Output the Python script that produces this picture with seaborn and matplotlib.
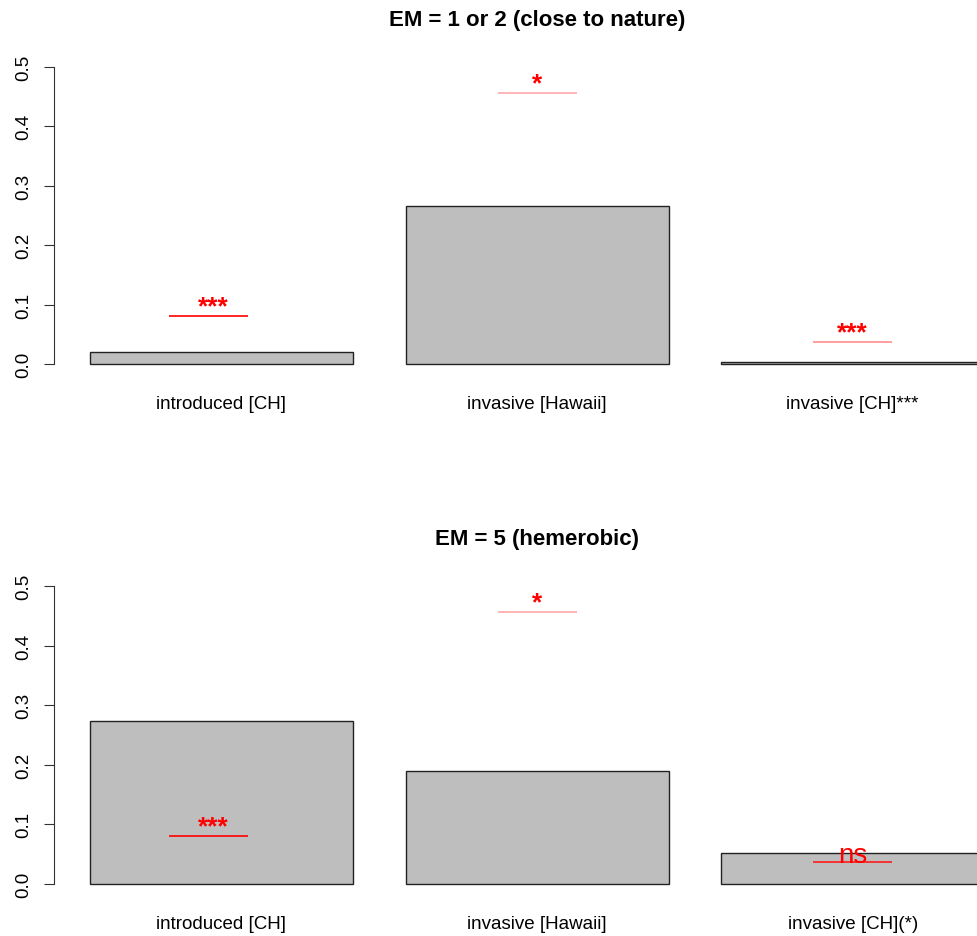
import matplotlib
matplotlib.use("Agg")
import matplotlib.pyplot as plt
import seaborn as sns
import pandas as pd

# Panel titles
titles = ["EM = 1 or 2 (close to nature)", "EM = 5 (hemerobic)"]

# Category labels per panel
labels_top = ["introduced [CH]", "invasive [Hawaii]", "invasive [CH]***"]
labels_bottom = ["introduced [CH]", "invasive [Hawaii]", "invasive [CH](*)"]

# Bar heights (proportions)
values_top = [0.020, 0.266, 0.004]
values_bottom = [0.274, 0.190, 0.052]

# Reference levels marked by short segments, with their significance codes
ref_top = [0.080, 0.456, 0.037]
ref_bottom = [0.080, 0.456, 0.037]
sig_top = ["***", "*", "***"]
sig_bottom = ["***", "*", "ns"]

# Segment extents in barplot units (bars span 0.2-1.2, 1.4-2.4, 2.6-3.6)
seg_start = [0.50, 1.75, 2.95]
seg_end = [0.80, 2.05, 3.25]
# x positions of the significance codes in the same units
sig_x = [0.67, 1.90, 3.10]
seg_colors_top = ["#ff0000", "#ffa8a8", "#ff8c8c"]
seg_colors_bottom = ["#ff0000", "#ffa8a8", "#ff1a1a"]

plt.rcParams["font.family"] = ["Liberation Sans", "DejaVu Sans"]

fig = plt.figure(figsize=(9.77, 9.37), dpi=100)
W, H = 977.0, 937.0


def unit_to_cat(u):
    # barplot units -> categorical positions (bar centres 0.7, 1.9, 3.1 -> 0, 1, 2)
    return (u - 0.7) / 1.2


def panel(rect, title, labels, values, refs, sigs, seg_colors):
    ax = fig.add_axes(rect)
    df = pd.DataFrame({"cat": labels, "val": values})
    sns.barplot(data=df, x="cat", y="val", ax=ax, color="#bebebe",
                saturation=1, width=1 / 1.2, edgecolor="#222222",
                linewidth=1.0, errorbar=None)
    for s, e, xs, r, txt, c in zip(seg_start, seg_end, sig_x, refs, sigs,
                                   seg_colors):
        x0, x1 = unit_to_cat(s), unit_to_cat(e)
        ax.plot([x0, x1], [r, r], color=c, lw=1.2, solid_capstyle="butt",
                zorder=4)
        xm = unit_to_cat(xs)
        if txt == "ns":
            ax.text(xm, r, txt, color="#ff0000", fontsize=20, ha="center",
                    va="baseline", zorder=5)
        else:
            ax.text(xm, r + 0.005, txt, color="#ff0000", fontsize=19,
                    fontweight="bold", ha="center", va="baseline", zorder=5)
    ax.set_xlim(unit_to_cat(0.064), unit_to_cat(3.736))
    ax.set_ylim(-0.02, 0.52)
    ax.set_yticks([0.0, 0.1, 0.2, 0.3, 0.4, 0.5])
    ax.set_yticklabels(["0.0", "0.1", "0.2", "0.3", "0.4", "0.5"])
    for t in ax.get_yticklabels():
        t.set_rotation(90)
        t.set_va("center")
    ax.set_xticks([0, 1, 2])
    ax.set_xticklabels(labels)
    ax.set_xlabel("")
    ax.set_ylabel("")
    for sp in ["top", "right", "bottom"]:
        ax.spines[sp].set_visible(False)
    ax.spines["left"].set_bounds(0, 0.5)
    ax.spines["left"].set_color("#333333")
    ax.spines["left"].set_linewidth(0.8)
    ax.tick_params(axis="y", length=7.2, width=0.8, color="#333333",
                   labelsize=13.5, pad=8.5, direction="out")
    ax.tick_params(axis="x", length=0, labelsize=13.5, pad=14)
    ax.set_title(title, fontsize=16, fontweight="bold", pad=22)
    ax.set_facecolor("white")
    return ax


left = 54.2 / W
width = (1020.0 - 54.2) / W
panel([left, 1 - 376.9 / H, width, 320.8 / H], titles[0], labels_top,
      values_top, ref_top, sig_top, seg_colors_top)
panel([left, 1 - 896.9 / H, width, 321.8 / H], titles[1], labels_bottom,
      values_bottom, ref_bottom, sig_bottom, seg_colors_bottom)

fig.savefig("out.png", dpi=100, facecolor="white")
